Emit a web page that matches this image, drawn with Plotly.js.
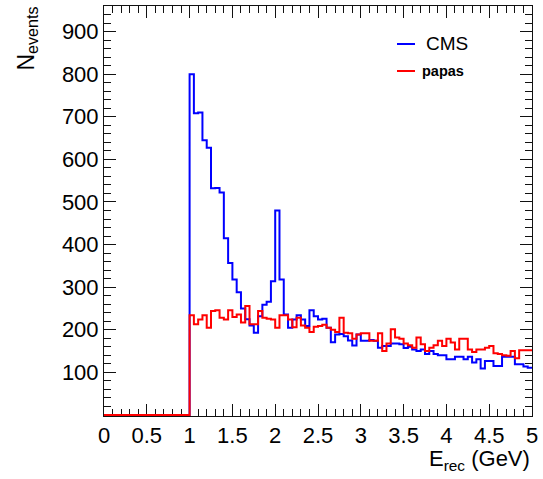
<!DOCTYPE html>
<html>
<head>
<meta charset="utf-8">
<script src="https://cdn.plot.ly/plotly-3.0.1.min.js"></script>
<style>html,body{margin:0;padding:0;background:#fff;}#chart{width:543px;height:479px;}</style>
</head>
<body>
<div id="chart"></div>
<script>
// Histogram binning (0 to 5 GeV, 100 bins)
var binLow = 0.0;
var binWidth = 0.05;

// CMS counts per bin (bins starting at 0.00, 0.05, ... 4.95)
var cmsCounts = [
  0,0,0,0,0,0,0,0,0,0,0,0,0,0,0,0,0,0,0,0,
  800,708,710,645,627,532,533,522,415,357,
  318,288,250,225,210,193,232,259,266,314,
  480,318,236,205,224,234,224,209,246,232,
  224,226,205,171,189,190,185,175,163,189,
  174,174,176,174,158,162,162,168,168,166,
  157,160,154,150,154,143,150,143,140,140,
  131,131,137,137,131,137,123,131,109,127,
  127,115,115,137,137,137,119,119,114,111
];

// papas counts per bin
var papasCounts = [
  0,0,0,0,0,0,0,0,0,0,0,0,0,0,0,0,0,0,0,0,
  234,213,224,234,205,244,246,228,224,246,
  230,236,217,256,213,213,244,228,226,224,
  205,234,234,224,206,228,210,205,195,207,
  209,212,205,200,195,228,193,192,179,189,
  192,192,174,174,192,150,168,201,182,179,
  168,164,158,182,166,150,158,164,174,162,
  179,170,154,179,179,154,148,154,154,158,
  162,145,143,140,139,150,133,152,152,152
];

var seriesNames = ["CMS", "papas"];
var xTitle = "E<sub>rec</sub> (GeV)";
var yTitle = "N<sub>events</sub>";
var yTickVals = [100,200,300,400,500,600,700,800,900];

function stepXY(counts) {
  var xs = [], ys = [];
  for (var i = 0; i < counts.length; i++) {
    xs.push(binLow + i * binWidth);
    ys.push(counts[i]);
  }
  xs.push(binLow + counts.length * binWidth);
  ys.push(counts[counts.length - 1]);
  return {x: xs, y: ys};
}

var cms = stepXY(cmsCounts);
var pap = stepXY(papasCounts);

var FONT = "Liberation Sans, Arial, Helvetica, sans-serif";

var traces = [
  {x: cms.x, y: cms.y, type: "scatter", mode: "lines", name: seriesNames[0],
   line: {shape: "hv", color: "#0000ff", width: 2}, showlegend: false},
  {x: pap.x, y: pap.y, type: "scatter", mode: "lines", name: seriesNames[1],
   line: {shape: "hv", color: "#ff0000", width: 2}, showlegend: false}
];

var W = 543, H = 479;
var mL = 104, mR = 11, mT = 6, mB = 63;
var pw = W - mL - mR, ph = H - mT - mB;
function px(xp) { return (xp - mL) / pw; }
function py(yp) { return (H - mB - yp) / ph; }

var layout = {
  width: W, height: H,
  margin: {l: mL, r: mR, t: mT, b: mB, pad: 0},
  paper_bgcolor: "#ffffff",
  plot_bgcolor: "#ffffff",
  font: {family: FONT, color: "#000000"},
  showlegend: false,
  xaxis: {
    range: [0, 5], tick0: 0, dtick: 0.5,
    ticks: "inside", ticklen: 12, tickwidth: 1, tickcolor: "#111",
    mirror: "ticks", showline: true, linecolor: "#111", linewidth: 1,
    showgrid: false, zeroline: false, layer: "below traces",
    minor: {ticks: "inside", dtick: 0.1, ticklen: 7, tickwidth: 1, tickcolor: "#111", showgrid: false},
    tickfont: {family: FONT, size: 22, color: "#000"}
  },
  yaxis: {
    range: [-2.35, 960], tickmode: "array", tickvals: yTickVals,
    ticks: "inside", ticklen: 12, tickwidth: 1, tickcolor: "#111",
    mirror: "ticks", showline: true, linecolor: "#111", linewidth: 1,
    showgrid: false, zeroline: false, layer: "below traces",
    minor: {ticks: "inside", tickmode: "linear", tick0: 0, dtick: 20, ticklen: 7, tickwidth: 1, tickcolor: "#111", showgrid: false},
    tickfont: {family: FONT, size: 22, color: "#000"}
  },
  annotations: [
    {text: xTitle, xref: "paper", yref: "paper", x: 1, y: 0, xanchor: "right", yanchor: "top",
     yshift: -28, showarrow: false, font: {family: FONT, size: 22, color: "#000"}},
    {text: yTitle, xref: "paper", yref: "paper", x: 0, y: 1, xanchor: "right", yanchor: "top",
     xshift: -61, yshift: 1, textangle: -90, showarrow: false, font: {family: FONT, size: 23, color: "#000"}},
    {text: seriesNames[0], xref: "paper", yref: "paper", x: px(424), y: py(44), xanchor: "left", yanchor: "middle",
     showarrow: false, font: {family: FONT, size: 19, color: "#000"}},
    {text: "<b>" + seriesNames[1] + "</b>", xref: "paper", yref: "paper", x: px(420), y: py(71), xanchor: "left", yanchor: "middle",
     showarrow: false, font: {family: FONT, size: 14.5, color: "#000"}}
  ],
  shapes: [
    {type: "line", xref: "paper", yref: "paper", x0: px(397), x1: px(415), y0: py(44), y1: py(44),
     line: {color: "#0000ff", width: 2}},
    {type: "line", xref: "paper", yref: "paper", x0: px(397), x1: px(415), y0: py(71), y1: py(71),
     line: {color: "#ff0000", width: 2}}
  ]
};

Plotly.newPlot("chart", traces, layout, {staticPlot: true, displayModeBar: false});
</script>
</body>
</html>
